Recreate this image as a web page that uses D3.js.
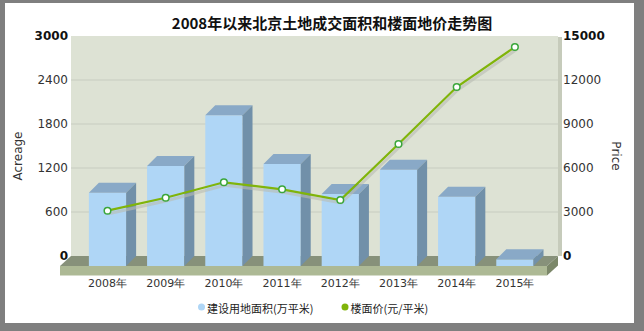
<!DOCTYPE html>
<html><head><meta charset="utf-8">
<script src="https://cdn.jsdelivr.net/npm/d3@7/dist/d3.min.js"></script>
<style>body{margin:0;background:#fff}svg{display:block}</style>
</head><body><svg id="c" width="644" height="331"></svg>
<script>
const years = ["2008年","2009年","2010年","2011年","2012年","2013年","2014年","2015年"];
const acreage = [1000, 1364, 2055, 1391, 982, 1312, 945, 91];
const price = [3090, 3975, 5025, 4547, 3818, 7636, 11523, 14250];
const leftTicks = [0, 600, 1200, 1800, 2400, 3000];
const rightTicks = [0, 3000, 6000, 9000, 12000, 15000];
const titleText = "2008年以来北京土地成交面积和楼面地价走势图";
const seriesNames = ["建设用地面积(万平米)", "楼面价(元/平米)"];

const svg = d3.select("#c");
const DX = 10, DY = 10;
const wall = {x0: 71, x1: 558, y0: 36, y1: 256};

// frame
svg.append("rect").attr("width",644).attr("height",331).attr("fill","#7f7f7f");
svg.append("rect").attr("x",5).attr("y",3).attr("width",629).attr("height",320).attr("fill","#fff");

const yL = d3.scaleLinear().domain([0,3000]).range([wall.y1, wall.y0]);
const yR = d3.scaleLinear().domain([0,15000]).range([wall.y1, wall.y0]);
const x = d3.scaleBand().domain(years).range([78.4, 544]).paddingInner(0.36).paddingOuter(0.18);

// wall
svg.append("rect").attr("x",wall.x0).attr("y",wall.y0).attr("width",wall.x1-wall.x0).attr("height",wall.y1-wall.y0).attr("fill","#dde2d4");
svg.append("rect").attr("x",wall.x1).attr("y",wall.y0+1).attr("width",4).attr("height",wall.y1-wall.y0-1).attr("fill","#c6cbbb");
svg.append("g").selectAll("line").data(leftTicks.slice(1,-1)).join("line")
  .attr("x1",wall.x0).attr("x2",wall.x1).attr("y1",d=>yL(d)).attr("y2",d=>yL(d))
  .attr("stroke","#c8ccbf").attr("stroke-width",1.2);

// floor
const fy = yL(0);
svg.append("path").attr("d",`M${wall.x0},${fy}L${wall.x1},${fy}L${wall.x1-DX-1},${fy+DY}L${wall.x0-DX-1},${fy+DY}Z`).attr("fill","#87917a");
svg.append("rect").attr("x",wall.x0-DX-1).attr("y",fy+DY).attr("width",wall.x1-wall.x0).attr("height",9.5).attr("fill","#adb995");
svg.append("path").attr("d",`M${wall.x1-DX-1},${fy+DY}L${wall.x1},${fy}L${wall.x1},${fy+9.5}L${wall.x1-DX-1},${fy+DY+9.5}Z`).attr("fill","#7b8769");

// bars
const bw = x.bandwidth();
const bars = svg.append("g").selectAll("g").data(years).join("g");
bars.each(function(yr,i){
  const g = d3.select(this);
  const x0 = x(yr), x1 = x0 + bw;
  const yt = yL(acreage[i]) + DY, yb = yL(0) + DY;
  g.append("rect").attr("x",x0).attr("y",yt).attr("width",bw).attr("height",yb-yt).attr("fill","#afd6f6");
  g.append("path").attr("d",`M${x0},${yt}L${x1},${yt}L${x1+DX},${yt-DY}L${x0+DX},${yt-DY}Z`).attr("fill","#89a9c7");
  g.append("path").attr("d",`M${x1},${yt}L${x1+DX},${yt-DY}L${x1+DX},${yb-DY}L${x1},${yb}Z`).attr("fill","#7190a9");
});

// line
const cx = yr => x(yr) + bw/2;
const line = d3.line().x((d,i)=>cx(years[i])).y(d=>yR(d));
svg.append("path").attr("d",line(price)).attr("fill","none").attr("stroke","#b9bdb2").attr("stroke-width",3).attr("opacity",0.6).attr("transform","translate(1,3)");
svg.append("path").attr("d",line(price)).attr("fill","none").attr("stroke","#80b40a").attr("stroke-width",2.2);
svg.append("g").selectAll("circle").data(price).join("circle")
  .attr("cx",(d,i)=>cx(years[i])).attr("cy",d=>yR(d)).attr("r",3.3)
  .attr("fill","#fff").attr("stroke","#3aa63a").attr("stroke-width",1.5);

// axes labels
const font = "DejaVu Sans, Verdana, sans-serif";
svg.append("g").selectAll("text").data(leftTicks).join("text")
  .attr("x",68).attr("y",d=>yL(d)).attr("dy","0.36em").attr("text-anchor","end")
  .attr("font-family",font).attr("font-size",12)
  .attr("font-weight",(d,i)=> (i===0||i===leftTicks.length-1)?"bold":"normal")
  .attr("fill",(d,i)=> (i===0||i===leftTicks.length-1)?"#111":"#333")
  .text(d=>d);
svg.append("g").selectAll("text").data(rightTicks).join("text")
  .attr("x",563).attr("y",d=>yR(d)).attr("dy","0.36em").attr("text-anchor","start")
  .attr("font-family",font).attr("font-size",12)
  .attr("font-weight",(d,i)=> (i===0||i===rightTicks.length-1)?"bold":"normal")
  .attr("fill",(d,i)=> (i===0||i===rightTicks.length-1)?"#111":"#333")
  .text(d=>d);
svg.append("g").selectAll("text").data(years).join("text")
  .attr("x",d=>cx(d)).attr("y",287).attr("text-anchor","middle")
  .attr("font-family",font).attr("font-size",11).attr("fill","#333").text(d=>d);

svg.append("text").attr("transform","translate(22,156) rotate(-90)").attr("text-anchor","middle")
  .attr("font-family",font).attr("font-size",12).attr("fill","#333").text("Acreage");
svg.append("text").attr("transform","translate(612,156) rotate(90)").attr("text-anchor","middle")
  .attr("font-family",font).attr("font-size",12).attr("fill","#333").text("Price");

// title
svg.append("text").attr("x",332).attr("y",29).attr("text-anchor","middle")
  .attr("font-family","Noto Sans CJK SC, sans-serif").attr("font-size",15).attr("font-weight","bold")
  .attr("fill","#111").text(titleText);

// legend
const leg = [{name:seriesNames[0],color:"#afd6f6",x:201.5},{name:seriesNames[1],color:"#80b40a",x:345}];
const lg = svg.append("g").selectAll("g").data(leg).join("g");
lg.append("circle").attr("cx",d=>d.x).attr("cy",307).attr("r",3.5).attr("fill",d=>d.color);
lg.append("text").attr("x",d=>d.x+5.5).attr("y",313).attr("font-family","Noto Sans CJK SC, sans-serif")
  .attr("font-size",11).attr("fill","#222").text(d=>d.name);
</script></body></html>
